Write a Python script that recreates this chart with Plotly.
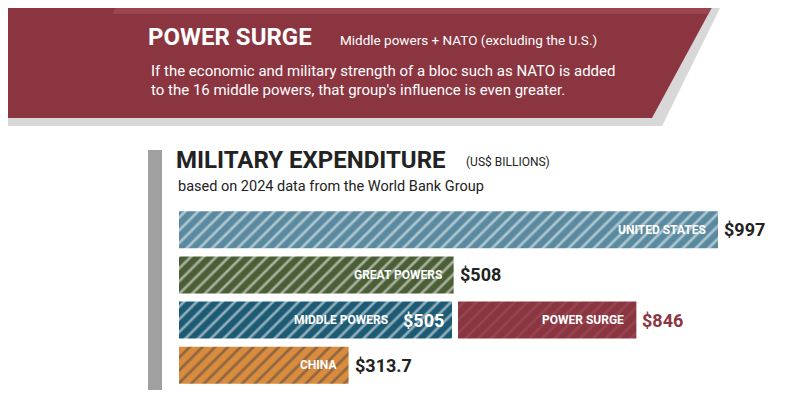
import plotly.graph_objects as go

categories = ["UNITED STATES", "GREAT POWERS", "MIDDLE POWERS", "CHINA"]
values = [997, 508, 505, 313.7]
value_labels = ["$997", "$508", "$505", "$313.7"]
colors = ["#5a8a9f", "#4b5e36", "#1d5a74", "#d98b3e"]
surge_total = 846
surge_label = "POWER SURGE"

OFF = 8  # page body margin
W, H = 800 - OFF, 413 - OFF
x0px, x1px = 179 - OFF, 800 - OFF
scale = (718 - 179) / 997
xmax = (x1px - x0px) / scale

pat = dict(shape="/", fgcolor="rgba(255,255,255,0.16)", size=9, solidity=0.3)
fig = go.Figure()
ypos = [0, 1, 2, 3]
fig.add_bar(x=values, y=ypos, orientation="h", width=0.82,
            marker=dict(color=colors, line_width=0, pattern=pat), showlegend=False)
gap = 6 / scale
fig.add_bar(x=[surge_total - values[2] - gap], y=[2], base=[values[2] + gap], orientation="h", width=0.82,
            marker=dict(color="#8b3540", line_width=0, pattern=pat), showlegend=False)

ann = []
for i, (c, v, lab) in enumerate(zip(categories, values, value_labels)):
    inside_right = v - (62 if i == 2 else 10) / scale
    ann.append(dict(x=inside_right, y=i, xref="x", yref="y", text=f"<b>{c}</b>", showarrow=False,
                    xanchor="right", font=dict(family="Roboto", size=12, color="white")))
    if i == 2:
        ann.append(dict(x=v - 6 / scale, y=i, xref="x", yref="y", text=f"<b>{lab}</b>", showarrow=False,
                        xanchor="right", font=dict(family="Roboto", size=18, color="white")))
    else:
        ann.append(dict(x=v + 4 / scale, y=i, xref="x", yref="y", text=f"<b>{lab}</b>", showarrow=False,
                        xanchor="left", font=dict(family="Roboto", size=18, color="#222")))
ann.append(dict(x=surge_total - 10 / scale, y=2, xref="x", yref="y", text=f"<b>{surge_label}</b>", showarrow=False,
                xanchor="right", font=dict(family="Roboto", size=12, color="white")))
ann.append(dict(x=surge_total + 4 / scale, y=2, xref="x", yref="y", text=f"<b>${surge_total}</b>", showarrow=False,
                xanchor="left", font=dict(family="Roboto", size=18, color="#8b3540")))

def P(x, y):
    return (x - OFF) / W, 1 - (y - OFF) / H

texts = [
    (146, 37, "<b>POWER SURGE</b>", 24, "white"),
    (338, 40, "Middle powers + NATO (excluding the U.S.)", 13.5, "white"),
    (149, 71, "If the economic and military strength of a bloc such as NATO is added", 15, "white"),
    (149, 90, "to the 16 middle powers, that group's influence is even greater.", 15, "white"),
    (174, 160, "<b>MILITARY EXPENDITURE</b>", 24, "#222"),
    (464, 162, "(US$ BILLIONS)", 12, "#222"),
    (176, 186, "based on 2024 data from the World Bank Group", 14.5, "#222"),
]
for x, y, t, s, c in texts:
    px, py = P(x, y)
    ann.append(dict(x=px, y=py, xref="paper", yref="paper", text=t, showarrow=False, xanchor="left",
                    yanchor="middle", font=dict(family="Roboto", size=s, color=c)))

def path(pts):
    return "M " + " L ".join(f"{(x - OFF) / W:.4f} {1 - (y - OFF) / H:.4f}" for x, y in pts) + " Z"

shapes = [
    dict(type="path", xref="paper", yref="paper", layer="below",
         path=path([(0, 0), (724, 0), (662, 126), (0, 126)]), fillcolor="#d8d8d8", line_width=0),
    dict(type="path", xref="paper", yref="paper", layer="below",
         path=path([(0, 0), (716, 0), (652, 118), (0, 118)]), fillcolor="#8b3540", line_width=0),
    dict(type="path", xref="paper", yref="paper", layer="below",
         path=path([(120, 0), (716, 0), (708, 14), (112, 14)]), fillcolor="#9c4450", line_width=0),
    dict(type="rect", xref="paper", yref="paper", x0=(148 - OFF) / W, x1=(162 - OFF) / W,
         y0=1 - (390 - OFF) / H, y1=1 - (150 - OFF) / H,
         fillcolor="#a0a0a0", line_width=0, layer="below"),
]

fig.update_layout(
    width=W, height=H, margin=dict(l=0, r=0, t=0, b=0),
    paper_bgcolor="white", plot_bgcolor="white", barmode="overlay",
    xaxis=dict(range=[0, xmax], domain=[x0px / W, 1], visible=False),
    yaxis=dict(range=[3.55, -0.55], domain=[1 - (390 - OFF) / H, 1 - (205 - OFF) / H], visible=False),
    annotations=ann, shapes=shapes,
)
fig.write_html("out.html")
